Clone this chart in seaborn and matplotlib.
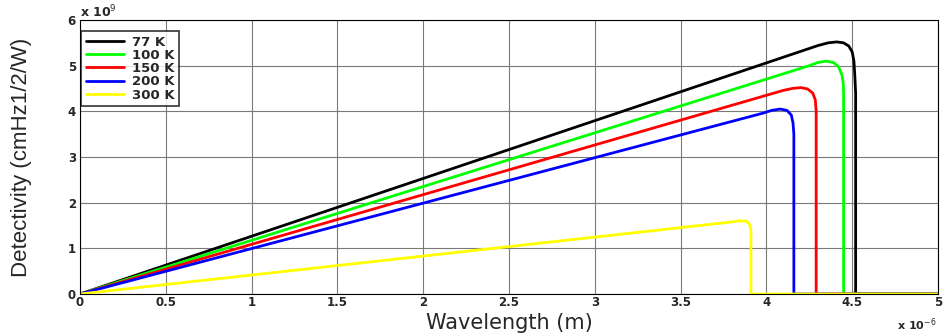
import numpy as np
import pandas as pd
import matplotlib
matplotlib.use("Agg")
import matplotlib.pyplot as plt
import seaborn as sns

# Wavelength in micrometres (axis shows x 10^-6 m), detectivity in units of 1e9
labels = ["77 K", "100 K", "150 K", "200 K", "300 K"]
colors = ["#000000", "#00ff00", "#ff0000", "#0000ff", "#ffff00"]

x_77 = [0.0, 4.30, 4.36, 4.41, 4.45, 4.48, 4.50, 4.51, 4.515, 4.52, 4.52, 5.0]
y_77 = [0.0, 5.44, 5.50, 5.52, 5.50, 5.43, 5.30, 5.10, 4.80, 4.40, 0.0, 0.0]

x_100 = [0.0, 4.25, 4.30, 4.35, 4.39, 4.42, 4.44, 4.448, 4.45, 4.45, 5.0]
y_100 = [0.0, 5.00, 5.07, 5.10, 5.07, 4.98, 4.80, 4.60, 4.40, 0.0, 0.0]

x_150 = [0.0, 4.10, 4.15, 4.20, 4.24, 4.27, 4.285, 4.29, 4.29, 5.0]
y_150 = [0.0, 4.46, 4.50, 4.52, 4.49, 4.40, 4.25, 4.00, 0.0, 0.0]

x_200 = [0.0, 3.98, 4.03, 4.08, 4.12, 4.145, 4.155, 4.16, 4.16, 5.0]
y_200 = [0.0, 3.96, 4.02, 4.05, 4.02, 3.92, 3.75, 3.50, 0.0, 0.0]

x_300 = [0.0, 3.78, 3.84, 3.88, 3.90, 3.908, 3.91, 3.91, 5.0]
y_300 = [0.0, 1.57, 1.60, 1.60, 1.54, 1.45, 1.35, 0.0, 0.0]

xs = [x_77, x_100, x_150, x_200, x_300]
ys = [y_77, y_100, y_150, y_200, y_300]

sns.set_style("white")
plt.rcParams['font.family'] = ['DejaVu Sans']

fig = plt.figure(figsize=(9.48, 3.33), dpi=100)
ax = fig.add_axes([80/948, 39/333, 858/948, 274/333])

for xv, yv, lab, col in zip(xs, ys, labels, colors):
    df = pd.DataFrame({"x": xv, "y": yv})
    sns.lineplot(data=df, x="x", y="y", ax=ax, color=col, lw=2.0, label=lab,
                 sort=False, estimator=None, solid_joinstyle="round")

ax.set_xlim(0, 5)
ax.set_ylim(0, 6)
ax.set_xticks(np.arange(0, 5.01, 0.5))
ax.set_xticklabels(["0", "0.5", "1", "1.5", "2", "2.5", "3", "3.5", "4", "4.5", "5"])
ax.set_yticks(range(0, 7))
ax.grid(True, color="#7a7a7a", lw=0.8)
for sp in ax.spines.values():
    sp.set_color("black")
    sp.set_linewidth(0.8)
ax.tick_params(direction="in", length=4, labelsize=8.5)
ax.tick_params(axis="x", pad=1.5)
ax.tick_params(axis="y", pad=3)
for t in ax.get_xticklabels() + ax.get_yticklabels():
    t.set_fontweight("bold")

ax.set_xlabel("Wavelength (m)", fontsize=15, va="baseline")
ax.xaxis.set_label_coords(0.5, -35/274)
ax.set_ylabel("Detectivity (cmHz1/2/W)", fontsize=16, va="center",
              family=['Liberation Sans', 'DejaVu Sans'])
ax.yaxis.set_label_coords(-58/858, 0.5)

ax.text(0.0, 1.0, r"x 10$^{9}$", transform=ax.transAxes, fontsize=9,
        fontweight="bold", ha="left", va="bottom")
ax.text(0.998, -0.08, r"x 10$^{-6}$", transform=ax.transAxes, fontsize=8,
        fontweight="bold", ha="right", va="top")

leg = ax.legend(loc="upper left", bbox_to_anchor=(0.0, 0.965), frameon=True,
                fancybox=False, edgecolor="black", handlelength=2.9,
                labelspacing=0.02, borderpad=0.35, handletextpad=0.6,
                borderaxespad=0.1,
                prop={"weight": "bold", "size": 9.5})
leg.get_frame().set_linewidth(1.2)

fig.savefig("out.png", dpi=100, facecolor="white")
